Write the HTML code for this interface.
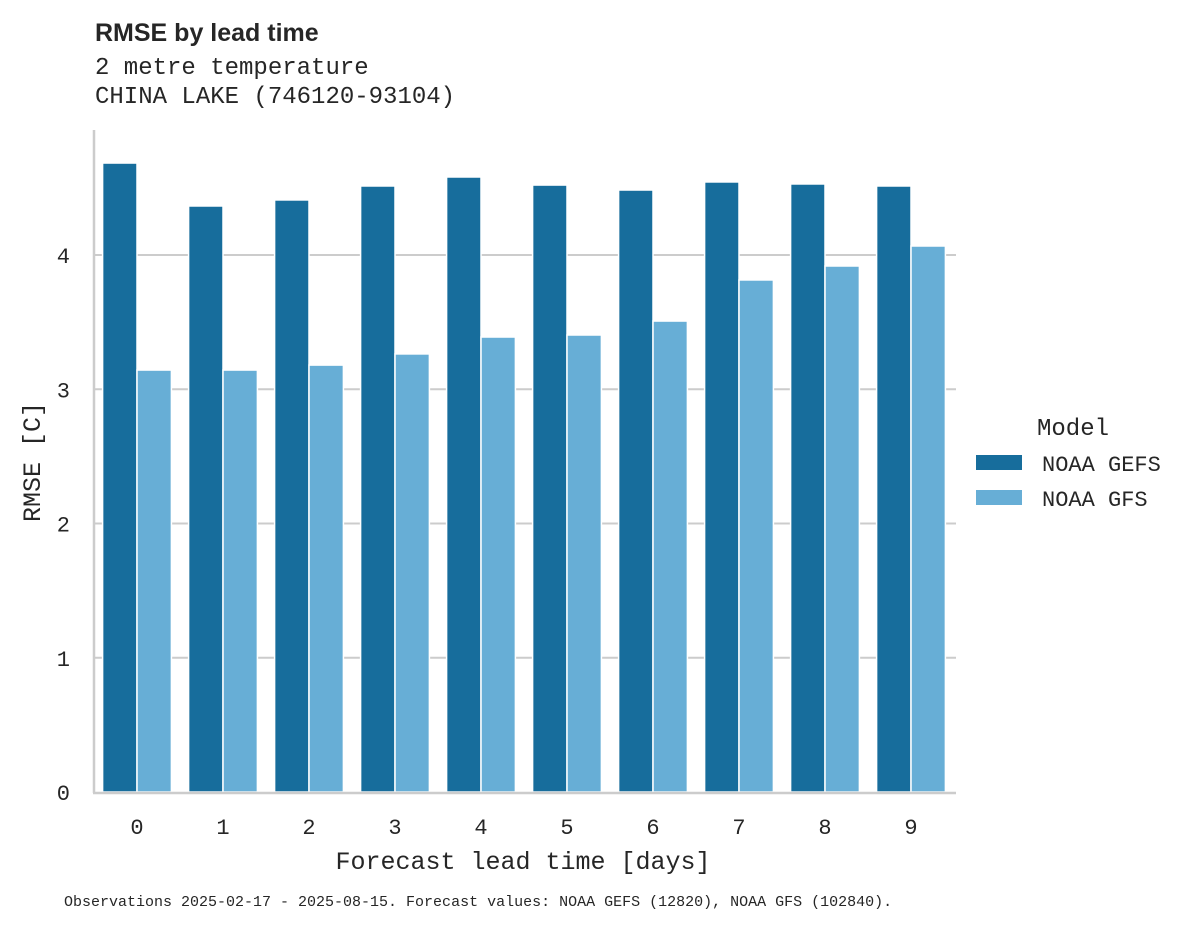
<!DOCTYPE html>
<html><head><meta charset="utf-8"><style>
body{margin:0;background:#fff;}
svg{display:block;}
.mono{font-family:"Liberation Mono",monospace;fill:#262626;}
</style></head><body>
<svg id="chart" width="1195" height="928">
<text x="95" y="41" font-family="Liberation Sans,sans-serif" font-weight="bold" font-size="25" fill="#262626">RMSE by lead time</text>
<text class="mono" x="95" y="74" font-size="24">2 metre temperature</text>
<text class="mono" x="95" y="103" font-size="24">CHINA LAKE (746120-93104)</text>
<g id="grid"></g>
<g id="bars"></g>
<line x1="94" y1="130" x2="94" y2="793" stroke="#cccccc" stroke-width="2.5"/>
<line x1="93" y1="793" x2="956" y2="793" stroke="#cccccc" stroke-width="2.5"/>
<g id="ticks"></g>
<text class="mono" x="523" y="869" font-size="25" text-anchor="middle">Forecast lead time [days]</text>
<text class="mono" x="40" y="462" font-size="25" text-anchor="middle" transform="rotate(-90 40 462)">RMSE [C]</text>
<g>
<text class="mono" x="1073" y="435" font-size="24" text-anchor="middle">Model</text>
<rect x="976" y="455" width="46" height="15" fill="#176d9c"/>
<text class="mono" x="1042" y="471" font-size="22">NOAA GEFS</text>
<rect x="976" y="490" width="46" height="15" fill="#67aed6"/>
<text class="mono" x="1042" y="506" font-size="22">NOAA GFS</text>
</g>
<text class="mono" x="64" y="906" font-size="15">Observations 2025-02-17 - 2025-08-15. Forecast values: NOAA GEFS (12820), NOAA GFS (102840).</text>
</svg>
<script>
const categories=["0","1","2","3","4","5","6","7","8","9"];
const gefsValues=[4.685,4.365,4.41,4.514,4.581,4.521,4.484,4.544,4.529,4.514];
const gfsValues=[3.143,3.143,3.18,3.263,3.389,3.404,3.508,3.814,3.918,4.067];
const yTicks=[0,1,2,3,4];
const NS="http://www.w3.org/2000/svg";
const y0=792,yScale=134.25,xLeft=94,step=86;
function yPos(v){return y0-v*yScale;}
function xCenter(i){return xLeft+step*(i+0.5);}
const grid=document.getElementById('grid'),bars=document.getElementById('bars'),ticks=document.getElementById('ticks');
yTicks.forEach(t=>{
 if(t>0){const l=document.createElementNS(NS,'line');
 l.setAttribute('x1',xLeft);l.setAttribute('x2',956);l.setAttribute('y1',yPos(t));l.setAttribute('y2',yPos(t));
 l.setAttribute('stroke','#cccccc');l.setAttribute('stroke-width','2');
 
 
 grid.appendChild(l);}
 const tx=document.createElementNS(NS,'text');
 tx.setAttribute('x',70);tx.setAttribute('y',yPos(t)+8);tx.setAttribute('class','mono');
 tx.setAttribute('font-size','22');tx.setAttribute('text-anchor','end');tx.textContent=t;
 
 
 ticks.appendChild(tx);
});
const bw=step*0.8/2;
function bar(i,v,off,color,name){
 const r=document.createElementNS(NS,'rect');
 r.setAttribute('x',xCenter(i)+off);r.setAttribute('y',yPos(v));
 r.setAttribute('width',bw);r.setAttribute('height',y0-yPos(v));
 r.setAttribute('fill',color);r.setAttribute('stroke','#fff');r.setAttribute('stroke-width','1.5');
 
 
 bars.appendChild(r);
}
categories.forEach((c,i)=>{
 bar(i,gefsValues[i],-bw,'#176d9c','bar-gefs-'+c);
 bar(i,gfsValues[i],0,'#67aed6','bar-gfs-'+c);
 const tx=document.createElementNS(NS,'text');
 tx.setAttribute('x',xCenter(i));tx.setAttribute('y',834);tx.setAttribute('class','mono');
 tx.setAttribute('font-size','22');tx.setAttribute('text-anchor','middle');tx.textContent=c;
 
 
 ticks.appendChild(tx);
});
</script>
</body></html>
